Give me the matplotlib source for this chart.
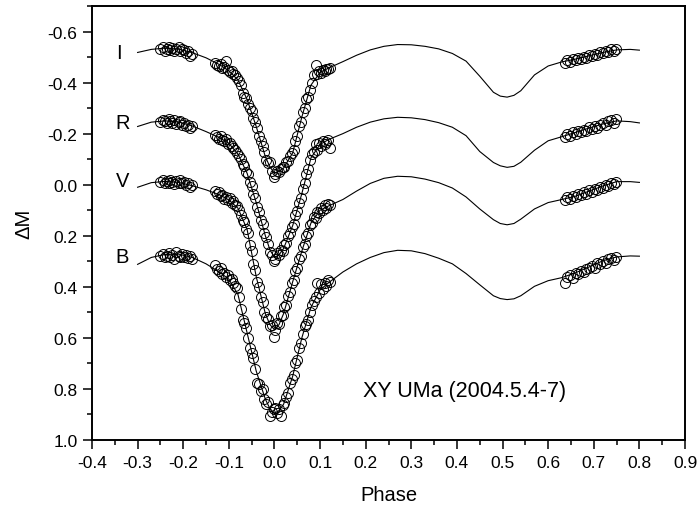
import matplotlib
matplotlib.use("Agg")
import matplotlib.pyplot as plt
from matplotlib.ticker import MultipleLocator, FormatStrFormatter

plt.rcParams['font.family'] = ['Liberation Sans', 'DejaVu Sans']

# model light curves (phase grid shared by all bands)
model_phase = [-0.30, -0.27, -0.24, -0.21, -0.18, -0.15, -0.12, -0.10, -0.08, -0.06,
               -0.04, -0.02, -0.01, 0.00, 0.01, 0.02, 0.04, 0.06, 0.08, 0.10,
               0.12, 0.15, 0.18, 0.21, 0.24, 0.27, 0.30, 0.33, 0.36, 0.39,
               0.42, 0.45, 0.48, 0.495, 0.51, 0.525, 0.54, 0.57, 0.60, 0.63,
               0.66, 0.69, 0.72, 0.75, 0.78, 0.80]
model_I = [-0.518, -0.530, -0.535, -0.531, -0.517, -0.497, -0.470, -0.446, -0.410, -0.334,
           -0.228, -0.110, -0.070, -0.045, -0.052, -0.065, -0.125, -0.265, -0.390, -0.440,
           -0.458, -0.482, -0.507, -0.528, -0.542, -0.549, -0.548, -0.542, -0.532, -0.514,
           -0.484, -0.425, -0.362, -0.347, -0.343, -0.350, -0.368, -0.430, -0.465, -0.481,
           -0.492, -0.505, -0.518, -0.528, -0.530, -0.527]
model_R = [-0.228, -0.245, -0.250, -0.246, -0.230, -0.208, -0.184, -0.162, -0.120, -0.045,
           0.070, 0.200, 0.255, 0.285, 0.275, 0.250, 0.160, 0.035, -0.105, -0.158,
           -0.178, -0.200, -0.225, -0.245, -0.258, -0.264, -0.262, -0.255, -0.243, -0.225,
           -0.192, -0.130, -0.087, -0.074, -0.068, -0.072, -0.088, -0.135, -0.172, -0.188,
           -0.205, -0.222, -0.238, -0.250, -0.247, -0.242]
model_V = [0.010, -0.008, -0.013, -0.009, 0.004, 0.020, 0.040, 0.060, 0.092, 0.175,
           0.360, 0.505, 0.548, 0.568, 0.548, 0.505, 0.380, 0.260, 0.150, 0.100,
           0.082, 0.058, 0.025, -0.005, -0.025, -0.033, -0.031, -0.022, -0.008, 0.013,
           0.048, 0.095, 0.137, 0.152, 0.157, 0.152, 0.135, 0.095, 0.070, 0.058,
           0.045, 0.025, 0.005, -0.012, -0.012, -0.009]
model_B = [0.312, 0.285, 0.273, 0.272, 0.285, 0.310, 0.343, 0.370, 0.430, 0.580,
           0.730, 0.840, 0.877, 0.895, 0.885, 0.860, 0.750, 0.600, 0.480, 0.412,
           0.382, 0.342, 0.310, 0.285, 0.266, 0.257, 0.259, 0.270, 0.288, 0.310,
           0.348, 0.392, 0.435, 0.446, 0.450, 0.447, 0.435, 0.398, 0.376, 0.364,
           0.345, 0.322, 0.298, 0.283, 0.279, 0.280]

# observed points (same phases for each band)
obs_phase = [-0.250, -0.245, -0.240, -0.236, -0.232, -0.228, -0.224, -0.220, -0.215, -0.210,
             -0.206, -0.202, -0.198, -0.194, -0.190, -0.185, -0.181,
             -0.130, -0.126, -0.122, -0.118, -0.114, -0.110, -0.106, -0.102, -0.098,
             -0.094, -0.090, -0.086, -0.082, -0.078,
             -0.074, -0.070, -0.066, -0.062, -0.058, -0.054, -0.050, -0.046, -0.042,
             -0.038, -0.034, -0.030, -0.026, -0.022, -0.018, -0.014, -0.010, -0.006, -0.002,
             0.002, 0.006, 0.010, 0.014, 0.018, 0.022, 0.026, 0.030, 0.034, 0.038,
             0.042, 0.046, 0.050, 0.054, 0.058, 0.062, 0.066, 0.070, 0.074, 0.078,
             0.082, 0.086, 0.090, 0.094, 0.098, 0.102, 0.106, 0.110, 0.114, 0.118, 0.122,
             0.636, 0.642, 0.648, 0.654, 0.660, 0.666, 0.672, 0.678, 0.684, 0.690,
             0.696, 0.702, 0.708, 0.714, 0.720, 0.726, 0.732, 0.738, 0.744, 0.748]
obs_I = [-0.530, -0.538, -0.525, -0.532, -0.540, -0.528, -0.535, -0.525, -0.533, -0.538,
         -0.522, -0.530, -0.527, -0.515, -0.522, -0.505, -0.512,
         -0.478, -0.470, -0.465, -0.472, -0.458, -0.462, -0.485, -0.448, -0.440,
         -0.445, -0.432, -0.428, -0.418, -0.405,
         -0.392, -0.360, -0.345, -0.338, -0.318, -0.300, -0.290, -0.262, -0.245,
         -0.222, -0.190, -0.172, -0.150, -0.128, -0.098, -0.085, -0.088, -0.052, -0.030,
         -0.040, -0.055, -0.050, -0.062, -0.070, -0.068, -0.088, -0.092, -0.112, -0.125,
         -0.135, -0.170, -0.190, -0.228, -0.245, -0.285, -0.300, -0.335, -0.345, -0.372,
         -0.400, -0.430, -0.468, -0.432, -0.445, -0.438, -0.450, -0.445, -0.455, -0.452, -0.458,
         -0.478, -0.488, -0.482, -0.492, -0.488, -0.497, -0.492, -0.502, -0.498, -0.508,
         -0.503, -0.512, -0.508, -0.518, -0.514, -0.525, -0.520, -0.530, -0.525, -0.532]
obs_R = [-0.245, -0.255, -0.250, -0.243, -0.258, -0.248, -0.240, -0.252, -0.238, -0.245,
         -0.250, -0.235, -0.240, -0.228, -0.235, -0.222, -0.228,
         -0.195, -0.188, -0.180, -0.192, -0.175, -0.170, -0.178, -0.160, -0.165,
         -0.150, -0.142, -0.135, -0.125, -0.112,
         -0.102, -0.080, -0.072, -0.050, -0.040, -0.010, 0.005, 0.038, 0.052,
         0.088, 0.105, 0.140, 0.155, 0.190, 0.205, 0.232, 0.262, 0.275, 0.300,
         0.290, 0.268, 0.275, 0.255, 0.258, 0.235, 0.228, 0.200, 0.190, 0.165,
         0.152, 0.118, 0.102, 0.070, 0.052, 0.015, -0.005, -0.042, -0.060, -0.098,
         -0.120, -0.130, -0.158, -0.135, -0.162, -0.150, -0.170, -0.160, -0.168, -0.175, -0.145,
         -0.185, -0.198, -0.192, -0.205, -0.200, -0.210, -0.205, -0.215, -0.212, -0.225,
         -0.218, -0.228, -0.222, -0.235, -0.240, -0.232, -0.248, -0.255, -0.240, -0.258]
obs_V = [-0.010, -0.018, -0.008, -0.015, -0.005, -0.020, -0.010, -0.002, -0.015, -0.008,
         -0.018, -0.005, -0.012, 0.000, -0.008, 0.008, 0.002,
         0.025, 0.038, 0.030, 0.045, 0.040, 0.055, 0.048, 0.060, 0.052,
         0.070, 0.065, 0.078, 0.085, 0.100,
         0.120, 0.140, 0.148, 0.175, 0.188, 0.235, 0.260, 0.310, 0.335,
         0.382, 0.400, 0.440, 0.458, 0.500, 0.520, 0.525, 0.555, 0.548, 0.595,
         0.570, 0.540, 0.545, 0.515, 0.512, 0.480, 0.470, 0.435, 0.420, 0.385,
         0.372, 0.338, 0.325, 0.290, 0.278, 0.245, 0.232, 0.200, 0.188, 0.158,
         0.150, 0.128, 0.130, 0.105, 0.110, 0.092, 0.098, 0.080, 0.090, 0.075, 0.078,
         0.060, 0.050, 0.055, 0.045, 0.050, 0.038, 0.042, 0.030, 0.035, 0.022,
         0.028, 0.015, 0.020, 0.008, 0.012, 0.000, 0.005, -0.008, -0.002, -0.012]
obs_B = [0.280, 0.272, 0.285, 0.278, 0.268, 0.282, 0.275, 0.290, 0.265, 0.278,
         0.285, 0.270, 0.282, 0.275, 0.288, 0.280, 0.292,
         0.315, 0.330, 0.340, 0.328, 0.350, 0.345, 0.362, 0.355, 0.372,
         0.368, 0.385, 0.395, 0.405, 0.440,
         0.485, 0.530, 0.540, 0.560, 0.600, 0.640, 0.660, 0.680, 0.720,
         0.775, 0.780, 0.810, 0.800, 0.840, 0.860, 0.850, 0.905, 0.890, 0.880,
         0.875, 0.895, 0.880, 0.905, 0.862, 0.855, 0.830, 0.815, 0.775, 0.760,
         0.745, 0.700, 0.685, 0.640, 0.620, 0.585, 0.555, 0.545, 0.530, 0.500,
         0.470, 0.455, 0.440, 0.385, 0.425, 0.390, 0.410, 0.385, 0.398, 0.372, 0.380,
         0.385, 0.360, 0.355, 0.365, 0.345, 0.350, 0.338, 0.342, 0.330, 0.325,
         0.318, 0.325, 0.308, 0.312, 0.300, 0.305, 0.292, 0.288, 0.295, 0.285]

bands = ['I', 'R', 'V', 'B']
models = [model_I, model_R, model_V, model_B]
observed = [obs_I, obs_R, obs_V, obs_B]
label_y = [-0.498, -0.224, 0.006, 0.304]

fig = plt.figure(figsize=(6.99, 5.10), dpi=100)
ax = fig.add_axes([0.1316, 0.1353, 0.8484, 0.8510])

for name, mod, obs, ly in zip(bands, models, observed, label_y):
    ax.plot(model_phase, mod, color='black', lw=0.8, zorder=2)
    ax.plot(obs_phase, obs, linestyle='none', marker='o', ms=7.2,
            mfc='none', mec='black', mew=0.7, zorder=3)
    ax.text(-0.348, ly, name, fontsize=14.5, ha='left', va='baseline')

ax.text(0.194, 0.828, 'XY UMa (2004.5.4-7)', fontsize=15.5, ha='left', va='baseline')

ax.set_xlim(-0.4, 0.9)
ax.set_ylim(1.0, -0.7)
ax.xaxis.set_major_locator(MultipleLocator(0.1))
ax.xaxis.set_minor_locator(MultipleLocator(0.05))
ax.yaxis.set_major_locator(MultipleLocator(0.2))
ax.yaxis.set_minor_locator(MultipleLocator(0.1))
ax.xaxis.set_major_formatter(FormatStrFormatter('%.1f'))
ax.yaxis.set_major_formatter(FormatStrFormatter('%.1f'))
ax.tick_params(which='major', direction='out', length=6.5, width=1.1, labelsize=12.5, pad=4)
ax.tick_params(which='minor', direction='out', length=3.5, width=1.1)
for sp in ax.spines.values():
    sp.set_linewidth(1.4)

ax.set_xlabel('Phase', fontsize=14.5, labelpad=11)
ax.set_ylabel('\u0394M', fontsize=14.5, labelpad=10)

fig.savefig('out.png', dpi=100)
